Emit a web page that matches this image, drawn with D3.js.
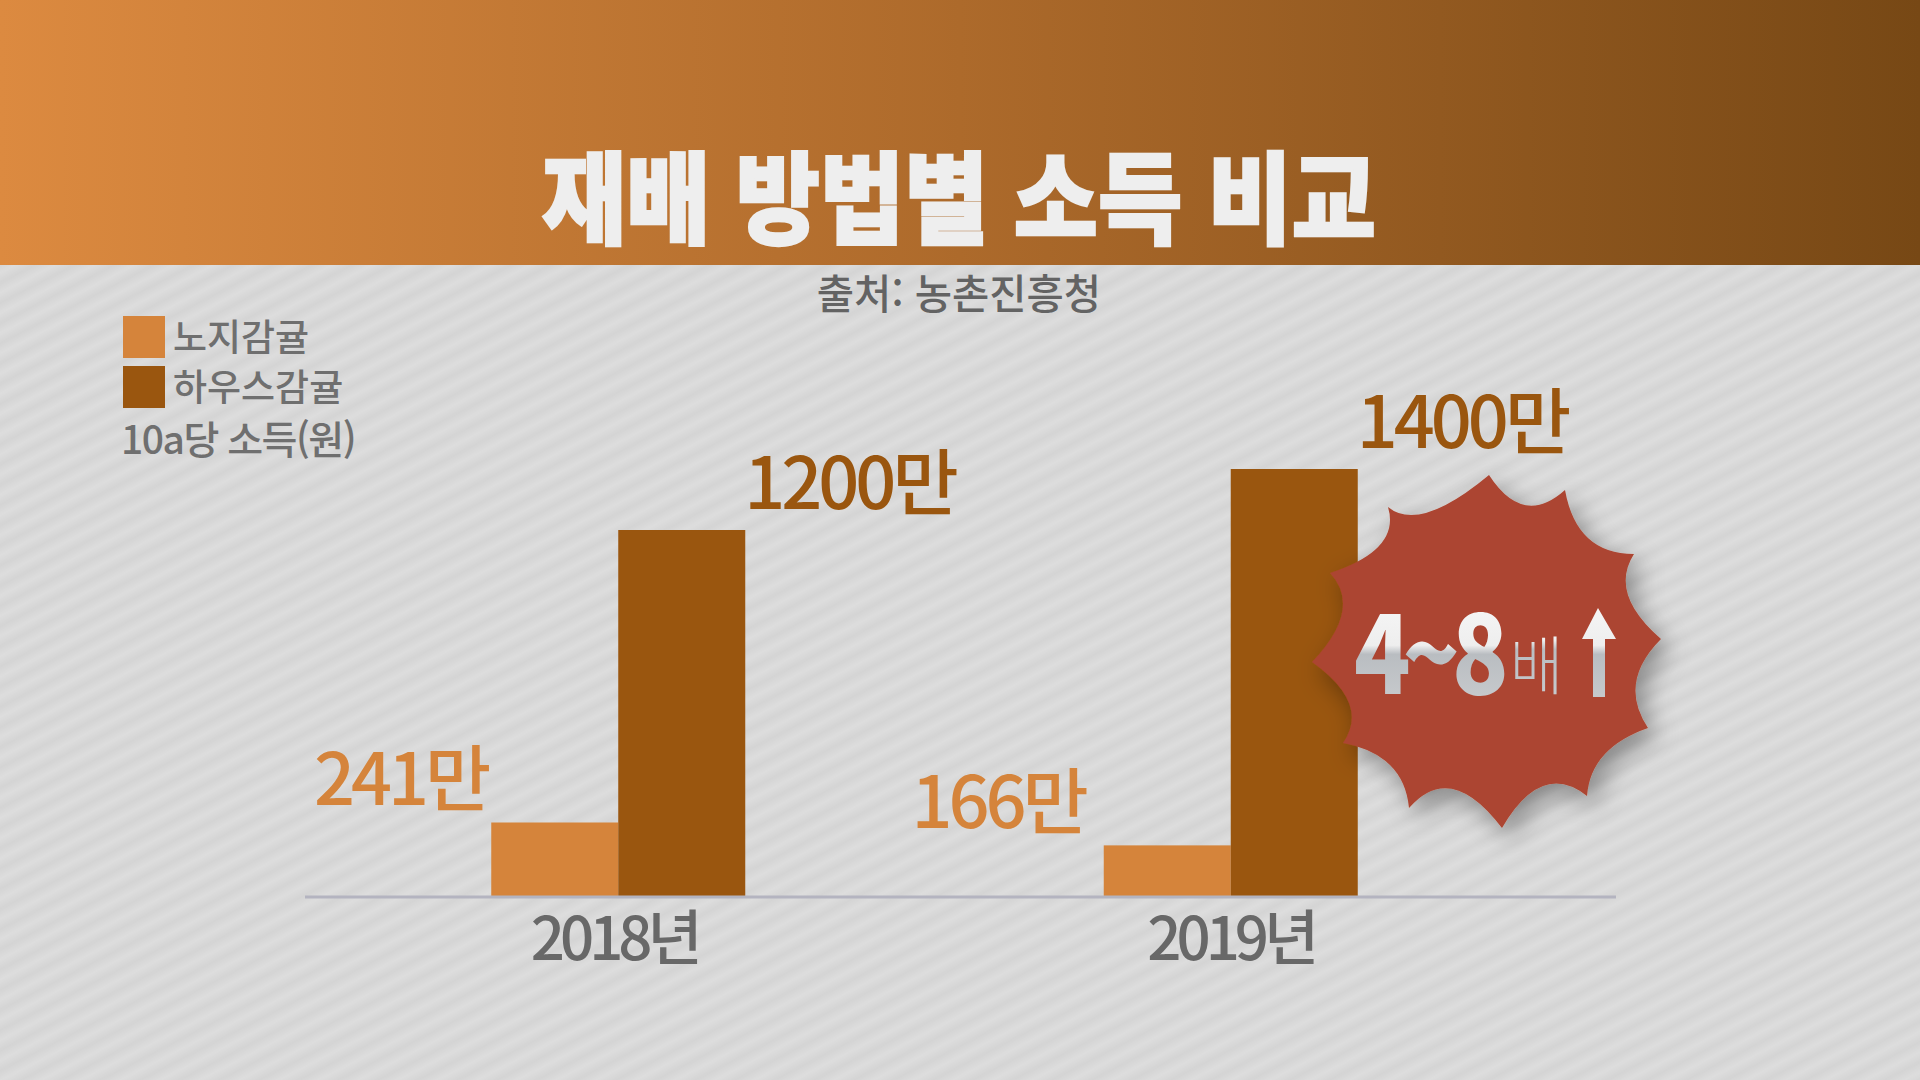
<!DOCTYPE html>
<html lang="ko">
<head>
<meta charset="utf-8">
<title>재배 방법별 소득 비교</title>
<script src="https://cdn.jsdelivr.net/npm/d3@7"></script>
<style>
  html, body { margin: 0; padding: 0; background: #d6d6d6; }
  svg { display: block; }
  text { font-family: "Noto Sans CJK KR", "Noto Sans", sans-serif; }
</style>
</head>
<body>
<div id="chart"></div>
<script>
// data
var years = ["2018", "2019"];
var seriesNames = ["노지감귤", "하우스감귤"];
var openField = [241, 166];
var greenhouse = [1200, 1400];
var seriesColors = ["#d5843b", "#9a560f"];
var chartTitle = "재배 방법별 소득 비교";
var sourceText = "출처: 농촌진흥청";
var unitText = "10a당 소득(원)";
var badgeNumber = "4~8";
var badgeUnit = "배";

var width = 1920, height = 1080;
var baseY = 896, headerH = 265;

// gap between open field bar and its label differs per year in the picture
var openLabelGap = [4, 19];

var svg = d3.select("#chart").append("svg")
    .attr("width", width)
    .attr("height", height);

var defs = svg.append("defs");

var headGrad = defs.append("linearGradient").attr("id", "headGrad");
headGrad.append("stop").attr("offset", "0").attr("stop-color", "#dc8a40");
headGrad.append("stop").attr("offset", "0.5").attr("stop-color", "#ad6a2b");
headGrad.append("stop").attr("offset", "1").attr("stop-color", "#774815");

// diagonal stripes in the background, soft edges
var stripeGrad = defs.append("linearGradient")
    .attr("id", "stripeGrad")
    .attr("x1", 0).attr("x2", 0).attr("y1", 0).attr("y2", 1);
stripeGrad.append("stop").attr("offset", "0").attr("stop-color", "#d4d4d4");
stripeGrad.append("stop").attr("offset", "0.5").attr("stop-color", "#dddddd");
stripeGrad.append("stop").attr("offset", "1").attr("stop-color", "#d4d4d4");

var stripes = defs.append("pattern")
    .attr("id", "stripes")
    .attr("patternUnits", "userSpaceOnUse")
    .attr("width", 18)
    .attr("height", 18)
    .attr("patternTransform", "rotate(-27)");
stripes.append("rect").attr("width", 18).attr("height", 18).attr("fill", "url(#stripeGrad)");

var silver = defs.append("linearGradient")
    .attr("id", "silver")
    .attr("gradientUnits", "userSpaceOnUse")
    .attr("x1", 0).attr("x2", 0).attr("y1", 608).attr("y2", 697);
silver.append("stop").attr("offset", "0").attr("stop-color", "#f5f5f5");
silver.append("stop").attr("offset", "0.42").attr("stop-color", "#eeeeee");
silver.append("stop").attr("offset", "0.52").attr("stop-color", "#b9bdc1");
silver.append("stop").attr("offset", "1").attr("stop-color", "#c6c9cc");

// same look for the scaled badge text, whose y runs from the baseline
var silverText = defs.append("linearGradient")
    .attr("id", "silverText")
    .attr("gradientUnits", "userSpaceOnUse")
    .attr("x1", 0).attr("x2", 0).attr("y1", -86).attr("y2", 3);
silverText.append("stop").attr("offset", "0").attr("stop-color", "#f5f5f5");
silverText.append("stop").attr("offset", "0.42").attr("stop-color", "#eeeeee");
silverText.append("stop").attr("offset", "0.52").attr("stop-color", "#b9bdc1");
silverText.append("stop").attr("offset", "1").attr("stop-color", "#c6c9cc");

var shadow = defs.append("filter")
    .attr("id", "burstShadow")
    .attr("x", "-20%").attr("y", "-20%")
    .attr("width", "150%").attr("height", "150%");
shadow.append("feDropShadow")
    .attr("dx", 8).attr("dy", 10)
    .attr("stdDeviation", 13)
    .attr("flood-color", "#000")
    .attr("flood-opacity", 0.38);

svg.append("rect")
    .attr("width", width).attr("height", height)
    .attr("fill", "url(#stripes)");

svg.append("rect")
    .attr("width", width).attr("height", headerH)
    .attr("fill", "url(#headGrad)");

svg.append("text")
    .attr("x", 959).attr("y", 236)
    .attr("text-anchor", "middle")
    .attr("font-size", 100)
    .attr("font-weight", 900)
    .attr("textLength", 834)
    .attr("lengthAdjust", "spacingAndGlyphs")
    .attr("fill", "#eeeeee")
    .attr("stroke", "#eeeeee")
    .attr("stroke-width", 2.5)
    .text(chartTitle);

svg.append("text")
    .attr("x", 959).attr("y", 309)
    .attr("text-anchor", "middle")
    .attr("font-size", 40.5)
    .attr("font-weight", 500)
    .attr("fill", "#636363")
    .text(sourceText);

// legend
var legend = svg.append("g");
seriesNames.forEach(function(name, i) {
    legend.append("rect")
        .attr("x", 123).attr("y", 316 + i * 50)
        .attr("width", 42).attr("height", 42)
        .attr("fill", seriesColors[i]);
    legend.append("text")
        .attr("x", 173).attr("y", 351 + i * 50)
        .attr("font-size", 37)
        .attr("font-weight", 500)
        .attr("fill", "#6f6f6f")
        .text(name);
});
legend.append("text")
    .attr("x", 121).attr("y", 454)
    .attr("font-size", 39)
    .attr("font-weight", 500)
    .attr("letter-spacing", -1.5)
    .attr("fill", "#6f6f6f")
    .text(unitText);

// scales
var x0 = d3.scaleBand().domain(years).range([312, 1537]);
var x1 = d3.scaleBand().domain(seriesNames).range([0, 254]);
var y = d3.scaleLinear().domain([0, 1400]).range([baseY, 469]);

var groupOffset = (x0.bandwidth() - 254) / 2;

var rows = years.map(function(yr, i) {
    return { year: yr, values: [openField[i], greenhouse[i]], gap: openLabelGap[i] };
});

var groups = svg.selectAll("g.year")
    .data(rows)
    .enter()
    .append("g")
    .attr("class", "year")
    .attr("transform", function(d) {
        return "translate(" + (x0(d.year) + groupOffset) + ",0)";
    });

groups.selectAll("rect")
    .data(function(d) { return d.values; })
    .enter()
    .append("rect")
    .attr("x", function(d, i) { return x1(seriesNames[i]); })
    .attr("y", function(d) { return y(d); })
    .attr("width", x1.bandwidth())
    .attr("height", function(d) { return baseY - y(d); })
    .attr("fill", function(d, i) { return seriesColors[i]; });

// value labels: first series sits left of its bar, second right of its bar
groups.each(function(row) {
    d3.select(this).selectAll("text")
        .data(row.values)
        .enter()
        .append("text")
        .attr("x", function(d, i) {
            return i === 0 ? x1(seriesNames[0]) - row.gap : x1(seriesNames[1]) + x1.bandwidth() - 1;
        })
        .attr("y", function(d, i) { return y(d) - (i === 0 ? 17 : 21); })
        .attr("text-anchor", function(d, i) { return i === 0 ? "end" : "start"; })
        .attr("font-size", 72)
        .attr("font-weight", 500)
        .attr("letter-spacing", -4)
        .attr("fill", function(d, i) { return seriesColors[i]; })
        .text(function(d) { return d + "만"; });
});

// axis
svg.append("line")
    .attr("x1", 305).attr("x2", 1616)
    .attr("y1", baseY + 1).attr("y2", baseY + 1)
    .attr("stroke", "#b4b4c0")
    .attr("stroke-width", 3);

var axis = svg.append("g")
    .attr("transform", "translate(0," + baseY + ")")
    .call(d3.axisBottom(x0).tickSize(0).tickFormat(function(d) { return d + "년"; }));
axis.select(".domain").remove();
axis.selectAll("text")
    .attr("y", 64)
    .attr("dy", 0)
    .attr("dx", function(d, i) { return i === 0 ? -4 : 0; })
    .attr("font-size", 60)
    .attr("font-weight", 500)
    .attr("letter-spacing", -5)
    .attr("font-family", "Noto Sans CJK KR")
    .attr("fill", "#686868");

// starburst badge, tips and valleys
var burstTips = [[1489,475],[1565,490],[1634,554],[1661,639],[1648,728],[1587,796],[1502,828],[1409,808],[1343,743],[1312,662],[1330,573],[1388,507]];
var burstDips = [[1525,505],[1588,538],[1628,595],[1636,683],[1604,755],[1543,786],[1453,789],[1390,765],[1349,703],[1342,613],[1380,545],[1429,512]];

var burstPath = d3.path();
burstPath.moveTo(burstTips[0][0], burstTips[0][1]);
burstTips.forEach(function(tip, i) {
    var next = burstTips[(i + 1) % burstTips.length];
    var dip = burstDips[i];
    burstPath.quadraticCurveTo(
        2 * dip[0] - (tip[0] + next[0]) / 2,
        2 * dip[1] - (tip[1] + next[1]) / 2,
        next[0], next[1]);
});
burstPath.closePath();

svg.append("path")
    .attr("d", burstPath.toString())
    .attr("fill", "#ac4530")
    .attr("filter", "url(#burstShadow)");

svg.append("text")
    .attr("transform", "translate(1354,694) scale(0.86,1)")
    .attr("font-size", 108)
    .attr("font-weight", 900)
    .attr("letter-spacing", -9)
    .attr("fill", "url(#silverText)")
    .text(badgeNumber);

svg.append("text")
    .attr("transform", "translate(1510,689) scale(0.9,1)")
    .attr("font-size", 64)
    .attr("font-weight", 300)
    .attr("fill", "url(#silverText)")
    .text(badgeUnit);

// up arrow next to the badge text
svg.append("polygon")
    .attr("points", "1598,608 1616,639 1605,639 1605,697 1593,697 1593,639 1582,639")
    .attr("fill", "url(#silver)");
</script>
</body>
</html>
